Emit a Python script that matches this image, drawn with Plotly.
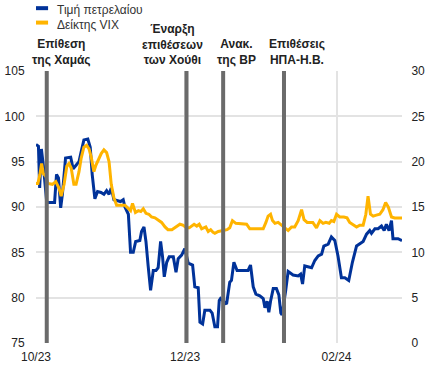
import pandas as pd
import plotly.graph_objects as go

# ---------------- data ----------------
start = pd.Timestamp("2023-10-01")

series_names = ["Τιμή πετρελαίου", "Δείκτης VIX"]

# oil price (left axis), x as days since 2023-10-01
oil_day = [0, 1.0, 1.5, 2.2, 3.0, 3.6, 4.4, 7.6, 8.4, 9.2, 10.1, 10.8, 12.1, 14.2, 15.2,
           16.4, 17.6, 18.5, 19.6, 21.2, 22.2, 23.0, 24.1, 25.2, 26.6, 27.8, 28.9, 29.9,
           30.8, 31.9, 33.5, 34.6, 35.7, 36.4, 37.8, 38.7, 39.8, 40.8, 42.5, 43.2, 44.2,
           45.0, 45.9, 46.9, 48.0, 49.1, 50.0, 51.0, 51.8, 52.5, 53.5, 54.5, 56.2, 57.3,
           58.2, 59.6, 60.9, 62.3, 64.1, 65.0, 66.4, 67.1, 68.2, 69.1, 71.2, 72.1, 73.2,
           74.3, 75.0, 75.5, 78.0, 79.3, 80.0, 81.0, 82.3, 86.8, 87.8, 88.9, 90.0, 91.6,
           93.0, 93.7, 94.6, 95.3, 96.0, 97.1, 98.4, 99.4, 100.2, 100.7, 102.2, 103.2,
           105.2, 107.3, 108.3, 109.1, 110.0, 112.8, 114.1, 115.5, 116.9, 117.8, 119.6,
           120.9, 122.3, 123.6, 125.0, 126.4, 128.0, 129.5, 131.2, 132.8, 133.9, 135.3,
           136.6, 137.3, 138.7, 140.0, 141.4, 142.5, 143.4, 144.5, 145.5, 146.1, 148.2,
           149.8]
oil_price = [96.9, 96.7, 92.1, 96.4, 94.6, 92.5, 90.5, 90.5, 93.6, 93.2, 89.9, 91.4, 95.4,
             95.5, 94.2, 94.6, 95.0, 96.1, 97.4, 97.5, 96.6, 93.6, 90.9, 91.7, 91.6, 91.4,
             91.8, 91.4, 92.1, 90.8, 90.7, 90.6, 90.8, 90.0, 89.2, 85.0, 85.0, 86.2, 86.3,
             87.3, 87.8, 86.2, 83.5, 80.8, 83.0, 83.0, 83.3, 86.2, 84.5, 82.3, 83.9, 84.5,
             84.5, 82.8, 84.3, 84.7, 85.4, 83.8, 83.6, 81.2, 81.1, 77.3, 77.1, 78.6, 78.6,
             78.3, 76.8, 76.8, 79.7, 79.9, 79.3, 81.7, 81.9, 83.9, 83.0, 83.0, 83.6, 81.2,
             80.4, 80.2, 79.9, 78.9, 79.6, 78.4, 79.6, 81.0, 81.0, 80.3, 78.3, 78.1, 80.8,
             82.9, 82.5, 82.4, 82.6, 81.5, 83.5, 83.3, 84.1, 84.6, 84.8, 85.7, 85.9, 86.7,
             86.3, 84.6, 82.2, 82.2, 81.9, 83.9, 85.7, 86.0, 86.2, 87.0, 87.4, 87.1, 87.6,
             87.6, 87.9, 87.4, 88.1, 87.4, 88.5, 86.5, 86.5, 86.3]

# VIX (right axis)
vix_day = [0, 0.8, 1.6, 2.3, 3.0, 4.0, 4.9, 6.7, 8.1, 9.4, 10.3, 11.5, 12.6, 13.5, 14.4,
           15.5, 16.4, 17.6, 18.5, 19.6, 20.7, 21.7, 22.6, 23.7, 24.5, 25.8, 26.7, 27.8,
           28.9, 29.9, 30.8, 31.9, 33.0, 36.4, 37.8, 38.7, 39.5, 40.7, 41.9, 42.9, 43.9,
           45.0, 46.2, 47.3, 48.7, 50.0, 51.4, 52.8, 54.0, 55.6, 57.5, 58.9, 60.1, 61.6,
           62.7, 64.7, 65.8, 66.8, 67.8, 68.7, 69.5, 70.5, 71.5, 72.5, 73.2, 74.6, 76.6,
           78.2, 79.3, 80.4, 81.8, 84.8, 86.2, 87.5, 93.0, 94.1, 95.0, 96.0, 96.8, 97.8,
           99.1, 100.5, 101.8, 103.2, 104.6, 105.9, 107.3, 108.7, 109.7, 111.0, 113.3,
           114.8, 116.2, 117.5, 118.6, 120.0, 120.9, 121.9, 123.0, 124.3, 126.0, 127.3,
           128.4, 129.8, 131.2, 132.5, 133.9, 135.0, 135.9, 136.9, 138.0, 139.3, 140.7,
           142.0, 143.1, 144.2, 145.5, 146.8, 149.8]
vix_level = [17.6, 17.6, 18.6, 19.8, 18.7, 18.4, 17.6, 17.5, 17.8, 17.1, 16.2, 17.5, 19.5,
             19.8, 19.3, 17.5, 17.5, 18.9, 20.4, 21.6, 21.8, 21.4, 20.5, 18.9, 19.6, 20.4,
             20.9, 21.3, 21.0, 20.0, 17.5, 16.0, 15.2, 15.2, 14.8, 14.6, 15.4, 14.4, 14.6,
             14.5, 14.8, 14.3, 14.2, 13.9, 13.8, 13.6, 13.3, 12.8, 12.5, 12.5, 12.8, 13.1,
             13.0, 12.7, 12.7, 13.1, 12.9, 13.1, 12.6, 12.7, 12.8, 12.3, 12.5, 12.2, 12.1,
             12.3, 12.4, 12.5, 12.7, 13.5, 13.2, 13.1, 13.1, 12.6, 12.6, 13.3, 14.0, 14.2,
             13.5, 13.2, 13.3, 13.0, 12.7, 12.4, 12.8, 12.8, 13.5, 14.7, 13.6, 13.3, 13.3,
             12.7, 13.5, 13.2, 13.3, 13.2, 13.5, 13.4, 14.2, 13.9, 13.9, 13.8, 13.3, 13.0,
             12.8, 13.0, 13.0, 14.2, 16.2, 14.2, 14.0, 14.1, 14.2, 14.7, 15.5, 15.0, 13.9,
             13.8, 13.8]

event_day = [4.4, 61.6, 76.6, 101.5]
event_label = ["Επίθεση<br>της Χαμάς", "Έναρξη<br>επιθέσεων<br>των Χούθι",
               "Ανακ.<br>της BP", "Επιθέσεις<br>ΗΠΑ-Η.Β."]

tick_dates = ["2023-10-01", "2023-12-01", "2024-02-01"]
left_range = [75, 105]
right_range = [0, 30]

# ---------------- styles ----------------
BLUE = "#003299"
YELLOW = "#FFB400"
GRID = "#e3e3e3"
EVENT = "#6b6b6b"
FONT = "Arial, Liberation Sans, sans-serif"


def to_dates(days):
    return list(start + pd.to_timedelta(days, unit="D"))


oil_x = to_dates(oil_day)
vix_x = to_dates(vix_day)
ev_x = to_dates(event_day)

fig = go.Figure()
fig.add_trace(go.Scatter(x=oil_x, y=oil_price, mode="lines", name=series_names[0],
                         line=dict(color=BLUE, width=3), yaxis="y", showlegend=False))
fig.add_trace(go.Scatter(x=vix_x, y=vix_level, mode="lines", name=series_names[1],
                         line=dict(color=YELLOW, width=3), yaxis="y2", showlegend=False))

shapes = []
for d in ev_x:
    shapes.append(dict(type="line", xref="x", yref="paper", x0=d, x1=d, y0=0, y1=1,
                       line=dict(color=EVENT, width=4), layer="above"))

# custom legend
leg_y = [1.231, 1.178]
leg_text_y = [1.224, 1.169]
leg_colors = [BLUE, YELLOW]
annotations = []
for i in range(2):
    shapes.append(dict(type="line", xref="paper", yref="paper", x0=0.0, x1=0.033,
                       y0=leg_y[i], y1=leg_y[i], line=dict(color=leg_colors[i], width=4)))
    annotations.append(dict(xref="paper", yref="paper", x=0.052, y=leg_text_y[i],
                            xanchor="left", yanchor="middle", showarrow=False,
                            text=series_names[i], font=dict(size=12, color="#333", family=FONT)))

label_x = [0.071, 0.372, 0.549, 0.714]
for lx, txt in zip(label_x, event_label):
    annotations.append(dict(xref="paper", yref="paper", x=lx, y=1.008, xanchor="center",
                            yanchor="bottom", showarrow=False, text="<b>" + txt + "</b>",
                            font=dict(size=12, color="#222", family=FONT)))

fig.update_layout(
    width=431, height=368,
    margin=dict(l=36, r=29, t=71, b=25, autoexpand=False),
    paper_bgcolor="white", plot_bgcolor="white",
    font=dict(family=FONT, size=12, color="#222"),
    shapes=shapes, annotations=annotations,
    xaxis=dict(type="date", range=[oil_x[0], oil_x[-1]], tickvals=tick_dates,
               tickformat="%m/%y", showgrid=True, gridcolor=GRID, gridwidth=1.5,
               zeroline=False, showline=False, ticks="outside", ticklen=3,
               tickcolor="rgba(0,0,0,0)", tickfont=dict(size=12, color="#222"),
               automargin=False),
    yaxis=dict(range=left_range, dtick=5, showgrid=True, gridcolor=GRID, gridwidth=1.5,
               zeroline=False, ticks="outside", ticklen=8, tickcolor="rgba(0,0,0,0)",
               tickfont=dict(size=12, color="#222"), automargin=False),
    yaxis2=dict(range=right_range, dtick=5, overlaying="y", side="right", showgrid=False,
                zeroline=False, ticks="outside", ticklen=6, tickcolor="rgba(0,0,0,0)",
                tickfont=dict(size=12, color="#222"), automargin=False),
)

fig.write_html("out.html", config={"displayModeBar": False},
               post_script="document.body.style.margin='0px';document.body.style.padding='0px';")
